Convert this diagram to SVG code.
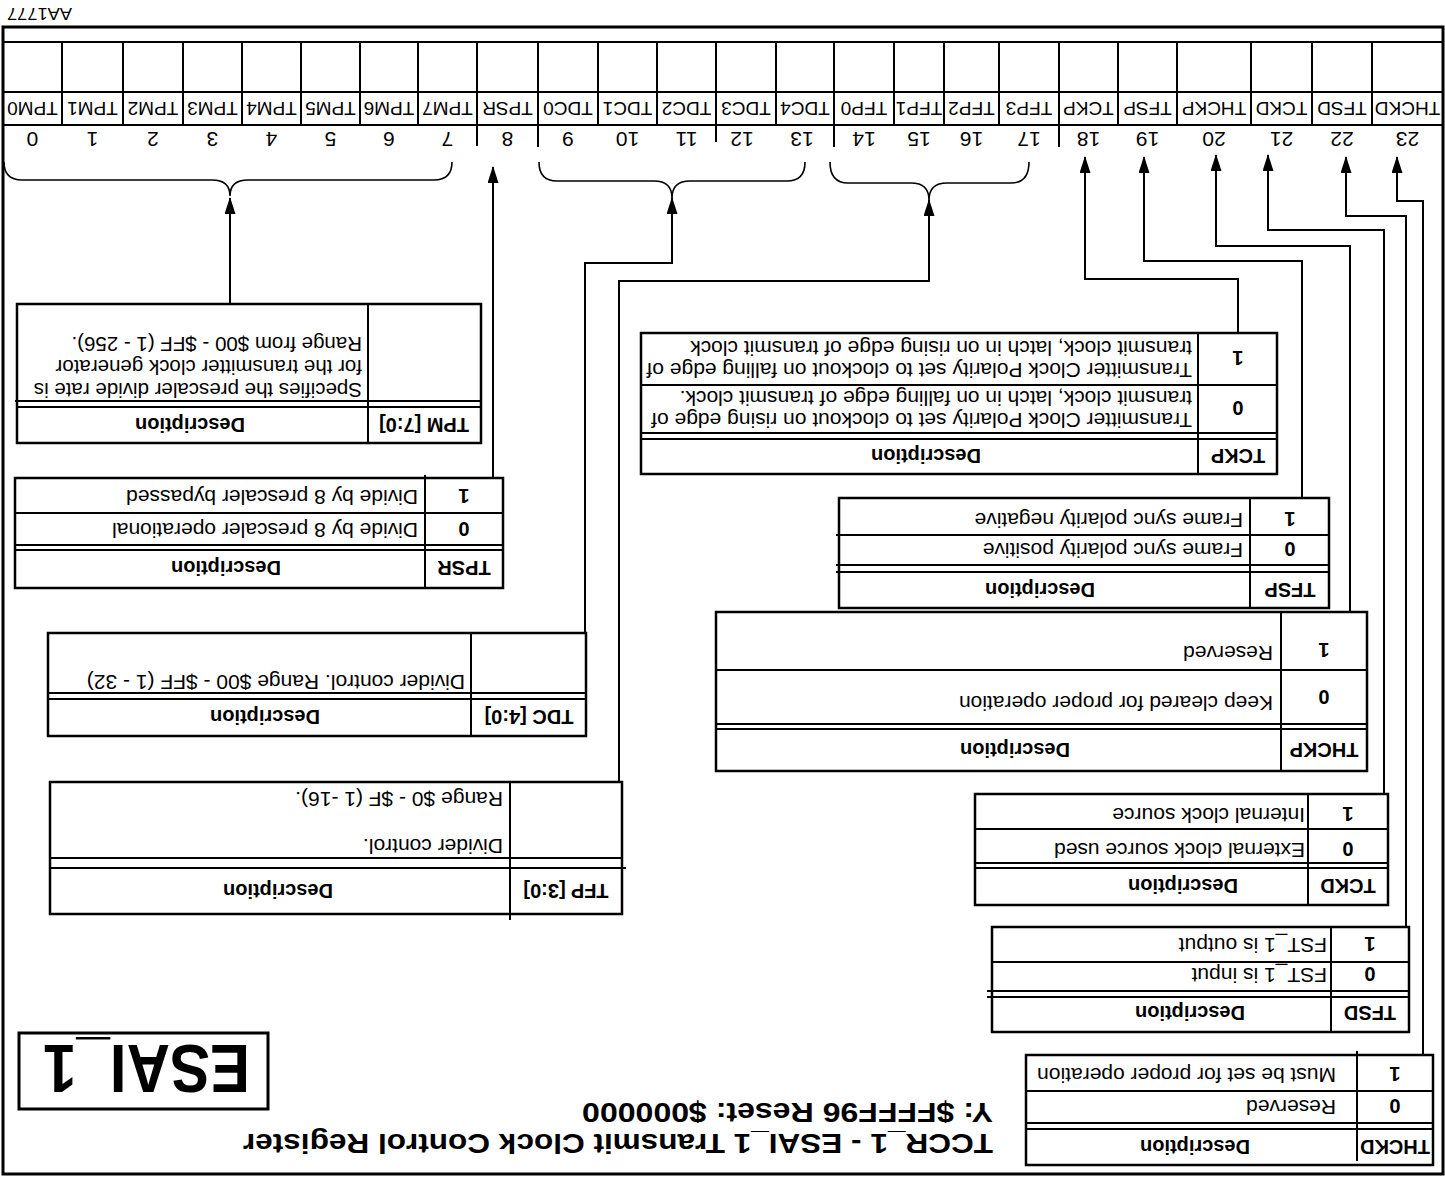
<svg xmlns="http://www.w3.org/2000/svg" width="1445" height="1183" viewBox="0 0 1445 1183">
<defs>
<style>
.ln{stroke:#000;stroke-width:2;fill:none}
.bx{stroke:#000;stroke-width:2.5;fill:none}
.fr{stroke:#000;stroke-width:3;fill:none}
.br{stroke:#000;stroke-width:1.6;fill:none}
.cn{stroke:#000;stroke-width:2;fill:none;marker-end:url(#ah)}
text{font-family:"Liberation Sans",Arial,sans-serif;fill:#000}
.t{font-size:21px}
.h{font-size:20px;font-weight:bold}
.c{text-anchor:middle}
.nm{font-size:19px;text-anchor:middle}
.nb{font-size:21px;text-anchor:middle}
</style>
<marker id="ah" viewBox="0 0 17 11" refX="16" refY="5.5" markerWidth="17" markerHeight="11" markerUnits="userSpaceOnUse" orient="auto">
<path d="M0,0 L17,5.5 L0,11 z" fill="#000"/>
</marker>
</defs>
<rect x="0" y="0" width="1445" height="1183" fill="#fff"/>
<g transform="rotate(180 722.5 591.5)">

<g id="frame">
<rect class="fr" x="2" y="9" width="1440" height="1147"/>
<text x="1373" y="1175" font-size="16" textLength="65" lengthAdjust="spacingAndGlyphs">AA1777</text>
</g>

<g id="title">
<text x="452" y="49" font-size="27" font-weight="bold" textLength="750" lengthAdjust="spacingAndGlyphs">TCCR_1 - ESAI_1 Transmit Clock Control Register</text>
<text x="452" y="80" font-size="27" font-weight="bold" textLength="411" lengthAdjust="spacingAndGlyphs">Y: $FFFF96 Reset: $000000</text>
</g>

<g id="esai-box">
<rect class="fr" x="1177" y="74" width="249" height="76"/>
<text x="1195" y="138" font-size="68" font-weight="bold" textLength="207" lengthAdjust="spacingAndGlyphs">ESAI_1</text>
</g>

<g id="register">
<line class="ln" x1="2" y1="1141" x2="1442" y2="1141"/>
<line class="ln" x1="2" y1="1091" x2="1442" y2="1091"/>
<line class="ln" x1="2" y1="1058" x2="1442" y2="1058"/>
<path class="ln" d="M73 1058V1141 M133 1058V1141 M194 1058V1141 M268 1058V1141 M327 1058V1141 M386 1036V1141 M446 1058V1141 M501 1058V1141 M551 1058V1141 M611 1036V1141 M669 1058V1141 M729 1041V1141 M788 1058V1141 M847 1058V1141 M907 1036V1141 M968 1037V1141 M1027 1058V1141 M1085 1058V1141 M1144 1058V1141 M1203 1058V1141 M1262 1058V1141 M1322 1058V1141 M1383 1058V1141"/>
<text class="nm" x="37.5" y="1081">THCKD</text>
<text class="nm" x="103" y="1081">TFSD</text>
<text class="nm" x="163.5" y="1081">TCKD</text>
<text class="nm" x="231" y="1081">THCKP</text>
<text class="nm" x="297.5" y="1081">TFSP</text>
<text class="nm" x="356.5" y="1081">TCKP</text>
<text class="nm" x="416" y="1081">TFP3</text>
<text class="nm" x="473.5" y="1081">TFP2</text>
<text class="nm" x="526" y="1081">TFP1</text>
<text class="nm" x="581" y="1081">TFP0</text>
<text class="nm" x="640" y="1081">TDC4</text>
<text class="nm" x="699" y="1081">TDC3</text>
<text class="nm" x="758.5" y="1081">TDC2</text>
<text class="nm" x="817.5" y="1081">TDC1</text>
<text class="nm" x="877" y="1081">TDC0</text>
<text class="nm" x="937.5" y="1081">TPSR</text>
<text class="nm" x="997.5" y="1081">TPM7</text>
<text class="nm" x="1056" y="1081">TPM6</text>
<text class="nm" x="1114.5" y="1081">TPM5</text>
<text class="nm" x="1173.5" y="1081">TPM4</text>
<text class="nm" x="1232.5" y="1081">TPM3</text>
<text class="nm" x="1292" y="1081">TPM2</text>
<text class="nm" x="1352.5" y="1081">TPM1</text>
<text class="nm" x="1412.5" y="1081">TPM0</text>
<text class="nb" x="37.5" y="1051">23</text>
<text class="nb" x="103" y="1051">22</text>
<text class="nb" x="163.5" y="1051">21</text>
<text class="nb" x="231" y="1051">20</text>
<text class="nb" x="297.5" y="1051">19</text>
<text class="nb" x="356.5" y="1051">18</text>
<text class="nb" x="416" y="1051">17</text>
<text class="nb" x="473.5" y="1051">16</text>
<text class="nb" x="526" y="1051">15</text>
<text class="nb" x="581" y="1051">14</text>
<text class="nb" x="643" y="1051">13</text>
<text class="nb" x="703" y="1051">12</text>
<text class="nb" x="758.5" y="1051">11</text>
<text class="nb" x="817.5" y="1051">10</text>
<text class="nb" x="877" y="1051">9</text>
<text class="nb" x="937.5" y="1051">8</text>
<text class="nb" x="997.5" y="1051">7</text>
<text class="nb" x="1056" y="1051">6</text>
<text class="nb" x="1114.5" y="1051">5</text>
<text class="nb" x="1173.5" y="1051">4</text>
<text class="nb" x="1232.5" y="1051">3</text>
<text class="nb" x="1292" y="1051">2</text>
<text class="nb" x="1352.5" y="1051">1</text>
<text class="nb" x="1412.5" y="1051">0</text>
</g>

<g id="braces">
<path class="br" d="M993 1021 Q993 1003 1011 1003 L1197 1003 Q1215 1003 1215 987 Q1215 1003 1233 1003 L1423 1003 Q1441 1003 1441 1021"/>
<path class="br" d="M640 1021 Q640 1002 658 1002 L755 1002 Q773 1002 773 985 Q773 1002 791 1002 L888 1002 Q906 1002 906 1021"/>
<path class="br" d="M416 1021 Q416 1000 434 1000 L498 1000 Q516 1000 516 983 Q516 1000 534 1000 L597 1000 Q615 1000 615 1021"/>
</g>

<g id="connectors">
<path class="cn" d="M1215 879 L1215 985"/>
<path class="cn" d="M952 705 L952 1016"/>
<path class="cn" d="M860 550 L860 920 L773 920 L773 985"/>
<path class="cn" d="M826 401 L826 902 L516 902 L516 983"/>
<path class="cn" d="M207 850 L207 904 L360 904 L360 1026"/>
<path class="cn" d="M143 685 L143 922 L301 922 L301 1026"/>
<path class="cn" d="M95 571 L95 937 L229 937 L229 1028"/>
<path class="cn" d="M61 389 L61 953 L177 953 L177 1028"/>
<path class="cn" d="M39 256 L39 967 L99 967 L99 1026"/>
<path class="cn" d="M22 128 L22 982 L48 982 L48 1026"/>
</g>

<g id="tbl-tpm">
<rect class="bx" x="964" y="740" width="464" height="139"/>
<path class="ln" d="M1077 740V879 M964 776H1428 M964 782H1430"/>
<text class="h c" x="1021" y="765">TPM [7:0]</text>
<text class="h c" x="1255" y="765">Description</text>
<text x="1083" y="800" font-size="20.5">Specifies the prescaler divide rate is</text>
<text x="1083" y="823" font-size="20.5">for the transmitter clock generator</text>
<text x="1083" y="846" font-size="20.5">Range from $00 - $FF (1 - 256).</text>
</g>

<g id="tbl-tpsr">
<rect class="bx" x="942" y="595" width="488" height="110"/>
<path class="ln" d="M1020 595V708 M942 633H1430 M942 638H1430 M942 670H1430"/>
<text class="h c" x="981" y="622">TPSR</text>
<text class="h c" x="1219" y="622">Description</text>
<text class="h c" x="981" y="661">0</text>
<text class="t" x="1027" y="660">Divide by 8 prescaler operational</text>
<text class="h c" x="981" y="694">1</text>
<text class="t" x="1027" y="693">Divide by 8 prescaler bypassed</text>
</g>

<g id="tbl-tdc">
<rect class="bx" x="859" y="447" width="538" height="103"/>
<path class="ln" d="M974 447V550 M859 484H1397 M859 490H1397"/>
<text class="h c" x="916" y="473">TDC [4:0]</text>
<text class="h c" x="1180" y="473">Description</text>
<text class="t" x="980" y="508">Divider control. Range $00 - $FF (1 - 32)</text>
</g>

<g id="tbl-tfp">
<rect class="bx" x="823" y="269" width="572" height="132"/>
<path class="ln" d="M935 263V401 M819 315H1395 M823 325H1395"/>
<text class="h c" x="879" y="299">TFP [3:0]</text>
<text class="h c" x="1167" y="299">Description</text>
<text class="t" x="942" y="344">Divider control.</text>
<text class="t" x="942" y="391">Range $0 - $F (1 -16).</text>
</g>

<g id="tbl-tckp">
<rect class="bx" x="168" y="709" width="636" height="141"/>
<path class="ln" d="M247 709V850 M168 744H804 M168 750H804 M168 798H804"/>
<text class="h c" x="207" y="734">TCKP</text>
<text class="h c" x="519" y="734">Description</text>
<text class="h c" x="207" y="782">0</text>
<text class="t" x="253" y="770">Transmitter Clock Polarity set to clockout on rising edge of</text>
<text class="t" x="253" y="792">transmit clock, latch in on falling edge of transmit clock.</text>
<text class="h c" x="207" y="832">1</text>
<text class="t" x="253" y="820">Transmitter Clock Polarity set to clockout on falling edge of</text>
<text class="t" x="253" y="842">transmit clock, latch in on rising edge of transmit clock</text>
</g>

<g id="tbl-tfsp">
<rect class="bx" x="116" y="575" width="490" height="110"/>
<path class="ln" d="M195 575V685 M116 611H609 M116 618H609 M116 648H609"/>
<text class="h c" x="155" y="600">TFSP</text>
<text class="h c" x="405" y="600">Description</text>
<text class="h c" x="155" y="641">0</text>
<text class="t" x="202" y="640">Frame sync polarity positive</text>
<text class="h c" x="155" y="671">1</text>
<text class="t" x="202" y="670">Frame sync polarity negative</text>
</g>

<g id="tbl-thckp">
<rect class="bx" x="78" y="412" width="651" height="159"/>
<path class="ln" d="M164 412V571 M78 454H729 M78 459H729 M78 513H729"/>
<text class="h c" x="121" y="440">THCKP</text>
<text class="h c" x="430" y="440">Description</text>
<text class="h c" x="121" y="493">0</text>
<text class="t" x="172" y="487">Keep cleared for proper operation</text>
<text class="h c" x="121" y="540">1</text>
<text class="t" x="172" y="537">Reserved</text>
</g>

<g id="tbl-tckd">
<rect class="bx" x="57" y="278" width="413" height="111"/>
<path class="ln" d="M137 278V389 M57 315H470 M57 320H470 M57 354H470"/>
<text class="h c" x="97" y="304">TCKD</text>
<text class="h c" x="262" y="304">Description</text>
<text class="h c" x="97" y="341">0</text>
<text class="t" x="140" y="340">External clock source used</text>
<text class="h c" x="97" y="376">1</text>
<text class="t" x="140" y="375">Internal clock source</text>
</g>

<g id="tbl-tfsd">
<rect class="bx" x="36" y="151" width="417" height="105"/>
<path class="ln" d="M114 151V256 M36 186H458 M36 192H458 M36 221H453"/>
<text class="h c" x="75" y="177">TFSD</text>
<text class="h c" x="255" y="177">Description</text>
<text class="h c" x="75" y="216">0</text>
<text class="t" x="118" y="215">FST_1 is input</text>
<text class="h c" x="75" y="246">1</text>
<text class="t" x="118" y="245">FST_1 is output</text>
</g>

<g id="tbl-thckd">
<rect class="bx" x="12" y="18" width="407" height="110"/>
<path class="ln" d="M88 22V132 M12 54H419 M12 60H419 M12 92H419"/>
<text class="h c" x="50" y="43">THCKD</text>
<text class="h c" x="250" y="43">Description</text>
<text class="h c" x="50" y="84">0</text>
<text class="t" x="109" y="83">Reserved</text>
<text class="h c" x="50" y="116">1</text>
<text class="t" x="109" y="115">Must be set for proper operation</text>
</g>

</g>
</svg>
